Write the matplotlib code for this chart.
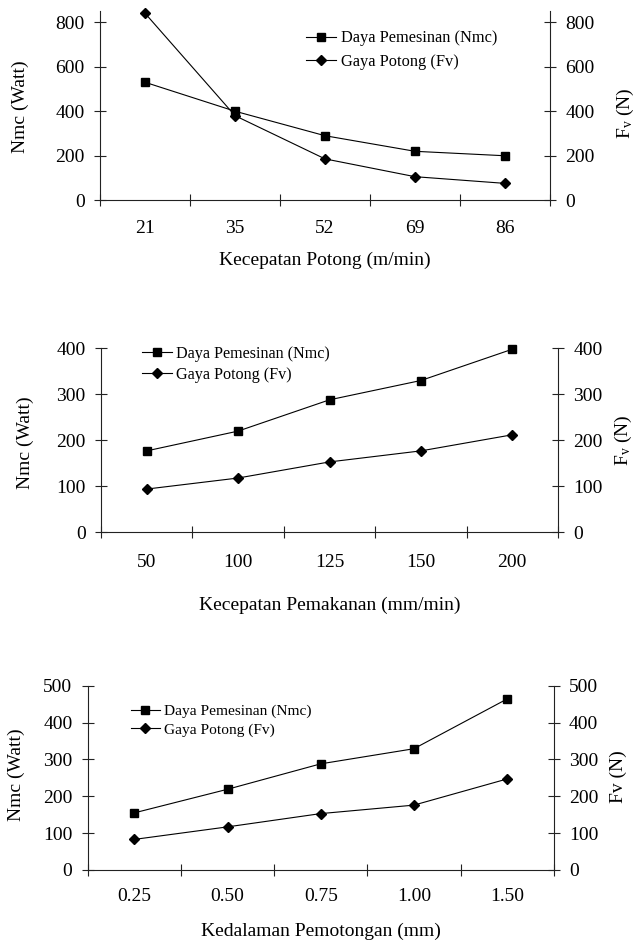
import matplotlib
matplotlib.use("Agg")
import matplotlib.pyplot as plt
from matplotlib.lines import Line2D

plt.rcParams['font.family'] = ['Liberation Serif', 'DejaVu Serif']
plt.rcParams['mathtext.fontset'] = 'custom'
plt.rcParams['mathtext.rm'] = 'Liberation Serif'
plt.rcParams['mathtext.it'] = 'Liberation Serif:italic'

# ---------------- data ----------------
cats1 = ['21', '35', '52', '69', '86']
nmc1 = [530, 400, 290, 220, 200]
fv1 = [840, 380, 186, 106, 76]

cats2 = ['50', '100', '125', '150', '200']
nmc2 = [177, 220, 288, 330, 398]
fv2 = [94, 118, 153, 177, 212]

cats3 = ['0.25', '0.50', '0.75', '1.00', '1.50']
nmc3 = [155, 219, 288, 329, 464]
fv3 = [83, 117, 153, 176, 247]

xlabels = ['Kecepatan Potong (m/min)', 'Kecepatan Pemakanan (mm/min)',
           'Kedalaman Pemotongan (mm)']
leg_nmc = 'Daya Pemesinan (Nmc)'
leg_fv = 'Gaya Potong (Fv)'
ylab_left = 'Nmc (Watt)'
ylab_right = [r'F$_{\mathrm{v}}$ (N)', r'F$_{\mathrm{v}}$ (N)', 'Fv (N)']

W, H = 637, 944
fig = plt.figure(figsize=(W / 100, H / 100), dpi=100)

# layout in pixels (left, top, right, bottom)
rects = [(100, 11, 550, 200.3), (101, 348.3, 558, 532.3), (87.7, 685.7, 553.7, 870)]
ylims = [(0, 850), (0, 400), (0, 500)]
yticks = [[0, 200, 400, 600, 800], [0, 100, 200, 300, 400], [0, 100, 200, 300, 400, 500]]
xpads = [14.4, 15.7, 12.7]
xlabel_pos = [(325, 260), (329.5, 605), (320.7, 931.7)]
yl_left_pos = [(20, 106.7), (25, 443), (16.7, 775)]
yl_right_pos = [(625, 113), (623.7, 440.7), (618.7, 776.7)]
leg_anchor = [(306, 30.5), (141.7, 345.5), (131, 704.5)]
leg_fs = [11.8, 11.6, 11.1]
leg_spacing = [0.45, 0.33, 0.28]

datasets = [(cats1, nmc1, fv1), (cats2, nmc2, fv2), (cats3, nmc3, fv3)]

def px2fig(x, y):
    return x / W, 1 - y / H

lw = 0.8
for i, (cats, nmc, fv) in enumerate(datasets):
    l, t, r, b = rects[i]
    ax = fig.add_axes([l / W, 1 - b / H, (r - l) / W, (b - t) / H])
    ax2 = ax.twinx()
    x = list(range(len(cats)))
    ax.plot(x, nmc, color='black', lw=lw, marker='s', markersize=5.5,
            markerfacecolor='black', markeredgecolor='black', zorder=3, clip_on=False)
    ax2.plot(x, fv, color='black', lw=lw, marker='D', markersize=4.6,
             markerfacecolor='black', markeredgecolor='black', zorder=3, clip_on=False)
    for a in (ax, ax2):
        a.set_ylim(*ylims[i])
        a.set_xlim(-0.5, len(cats) - 0.5)
        a.set_yticks(yticks[i])
        a.spines['top'].set_visible(False)
        for s in ('left', 'right', 'bottom'):
            a.spines[s].set_linewidth(lw)
            a.spines[s].set_color('#222222')
    ax.spines['right'].set_visible(False)
    ax2.spines['left'].set_visible(False)
    ax2.spines['bottom'].set_visible(False)
    ax.set_xticks(x)
    ax.set_xticklabels(cats)
    ax.set_xticks([k - 0.5 for k in range(len(cats) + 1)], minor=True)
    ax.tick_params(axis='x', which='major', length=0, pad=xpads[i], labelsize=14)
    ax.tick_params(axis='x', which='minor', direction='inout', length=9, width=lw,
                   color='#222222')
    ax.tick_params(axis='y', which='major', direction='inout', length=9, width=lw,
                   pad=6.5, labelsize=14, color='#222222', left=True, right=False)
    ax2.tick_params(axis='y', which='major', direction='inout', length=9, width=lw,
                    pad=6.5, labelsize=14, color='#222222', left=False, right=True)
    ax2.tick_params(axis='x', which='both', bottom=False, labelbottom=False)

    fx, fy = px2fig(*xlabel_pos[i])
    fig.text(fx, fy, xlabels[i], ha='center', va='center', fontsize=14)
    fx, fy = px2fig(*yl_left_pos[i])
    fig.text(fx, fy, ylab_left, ha='center', va='center', rotation=90, fontsize=14)
    fx, fy = px2fig(*yl_right_pos[i])
    fig.text(fx, fy, ylab_right[i], ha='center', va='center', rotation=90, fontsize=14)

    handles = [Line2D([], [], color='black', lw=lw, marker='s', markersize=5.5),
               Line2D([], [], color='black', lw=lw, marker='D', markersize=4.6)]
    fx, fy = px2fig(*leg_anchor[i])
    ax2.legend(handles, [leg_nmc, leg_fv], loc='upper left', bbox_to_anchor=(fx, fy),
               bbox_transform=fig.transFigure, frameon=False, borderpad=0,
               borderaxespad=0, fontsize=leg_fs[i], handlelength=1.85,
               handletextpad=0.3, labelspacing=leg_spacing[i])

fig.savefig('out.png', dpi=100)
